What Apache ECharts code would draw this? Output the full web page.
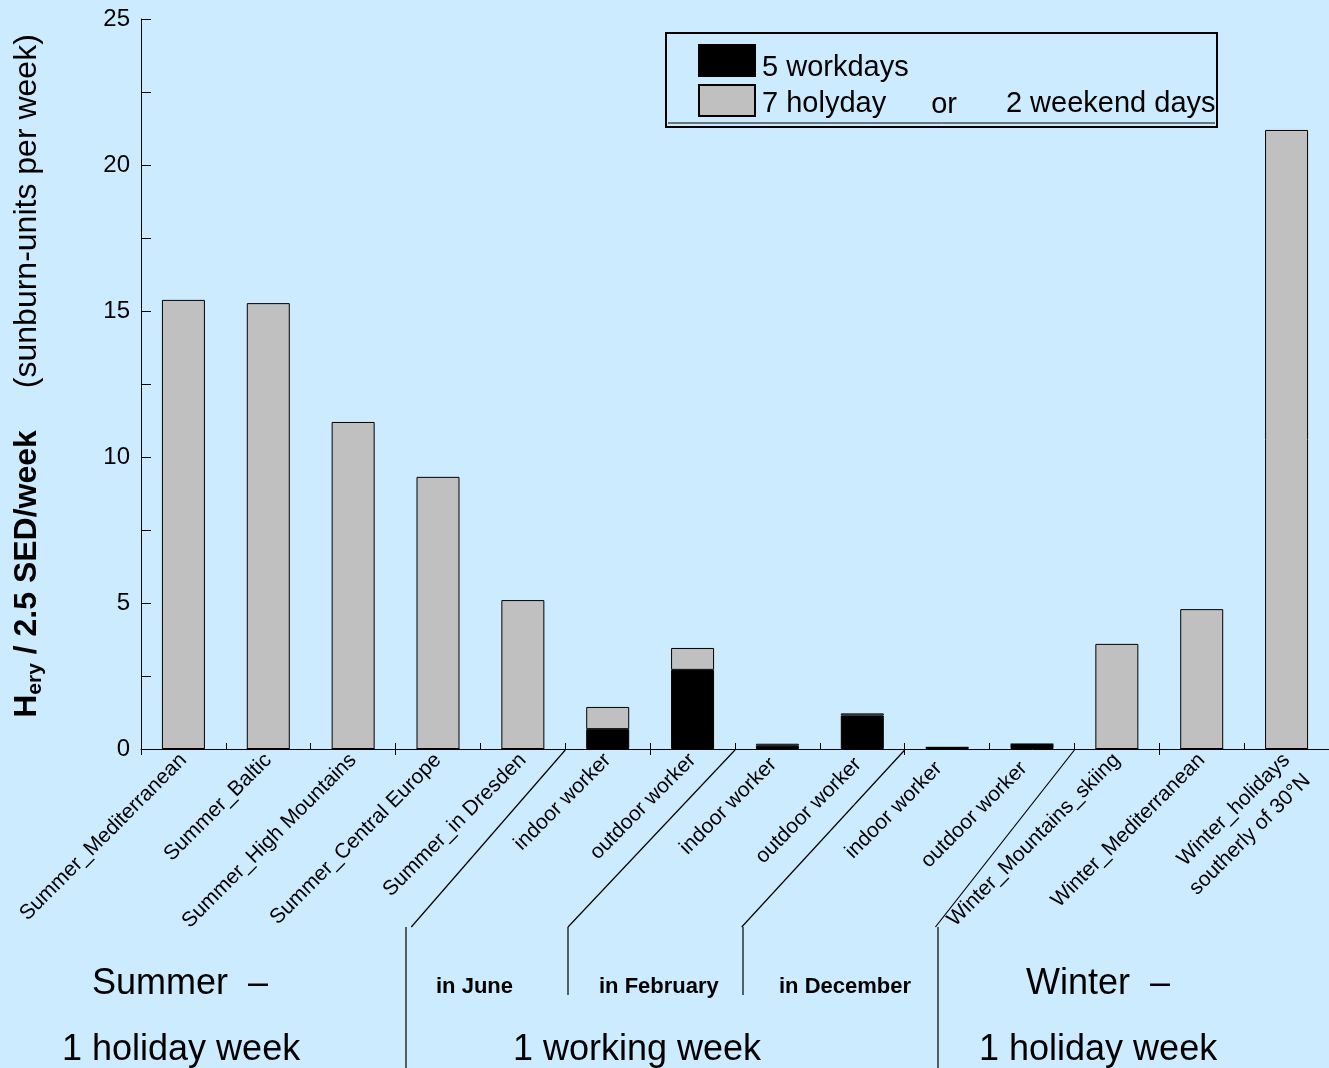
<!DOCTYPE html>
<html>
<head>
<meta charset="utf-8">
<script src="https://cdn.jsdelivr.net/npm/echarts@6/dist/echarts.min.js"></script>
<style>
  html, body { margin: 0; padding: 0; background: #CCEBFF; }
  #chart { width: 1329px; height: 1068px; }
</style>
</head>
<body>
<div id="chart"></div>
<script>
// Erythemal UV dose per week for different exposure scenarios
const categories = [
  'Summer_Mediterranean', 'Summer_Baltic', 'Summer_High Mountains',
  'Summer_Central Europe', 'Summer_in Dresden',
  'indoor worker', 'outdoor worker',      // June
  'indoor worker ', 'outdoor worker ',    // February
  'indoor worker  ', 'outdoor worker  ',  // December
  'Winter_Mountains_skiing', 'Winter_Mediterranean',
  'Winter_holidays\nsoutherly of 30°N'
];
// dose accumulated on the 5 workdays
const workdays = [0, 0, 0, 0, 0, 0.68, 2.71, 0.11, 1.15, 0.05, 0.16, 0, 0, 0];
// dose accumulated on 7 holidays or on the 2 weekend days
const holidays = [15.38, 15.27, 11.2, 9.32, 5.1, 0.76, 0.75, 0.07, 0.07, 0.01, 0.01, 3.6, 4.79, 21.2];
const yTicks = [0, 5, 10, 15, 20, 25];

const FONT = 'Liberation Sans, Arial, Helvetica, sans-serif';
const chart = echarts.init(document.getElementById('chart'));

const option = {
  backgroundColor: '#CCEBFF',
  animation: false,
  textStyle: { fontFamily: FONT, color: '#000' },
  grid: { left: 141, top: 19, width: 1190, bottom: 319, containLabel: false },
  legend: {
    orient: 'vertical',
    left: 698, top: 44,
    itemWidth: 56, itemHeight: 31, itemGap: 2,
    icon: 'rect',
    padding: 0,
    data: [
      { name: '5 workdays', textStyle: { padding: [14, 0, 0, 2] } },
      { name: '7 holyday', textStyle: { padding: [6, 0, 0, 2] } }
    ],
    textStyle: {
      fontSize: 29, fontFamily: FONT, color: '#000',
      rich: {
        o: { fontSize: 29, fontFamily: FONT, color: '#000', padding: [3, 0, 0, 45] },
        w: { fontSize: 29, fontFamily: FONT, color: '#000', padding: [0, 0, 0, 49] }
      }
    },
    formatter: function (name) {
      return name === '7 holyday' ? name + '{o|or}{w|2 weekend days}' : name;
    }
  },
  xAxis: [{
    type: 'category',
    data: categories,
    boundaryGap: true,
    axisLine: { show: true, lineStyle: { color: '#000', width: 1 } },
    axisTick: { show: true, inside: true, length: 6, lineStyle: { color: '#000' } },
    axisLabel: {
      interval: 0, rotate: 45, fontSize: 21, fontFamily: FONT, color: '#000', margin: 8,
      lineHeight: 29,
      // the two-line label hangs a little lower than the single-line ones
      formatter: v => v.indexOf('\n') >= 0 ? ' \n' + v : v
    }
  }, {
    type: 'category',
    data: categories,
    position: 'bottom',
    axisLine: { show: false },
    axisTick: { show: true, inside: false, length: 6, lineStyle: { color: '#000' } },
    axisLabel: { show: false }
  }],
  yAxis: {
    type: 'value',
    min: 0, max: 25, interval: 5,
    axisLine: { show: true, lineStyle: { color: '#000', width: 1 } },
    axisTick: { show: true, inside: true, length: 10, lineStyle: { color: '#000' } },
    minorTick: { show: true, splitNumber: 2, length: 10, lineStyle: { color: '#000' } },
    splitLine: { show: false },
    axisLabel: {
      fontSize: 24, fontFamily: FONT, color: '#000', margin: 11,
      formatter: v => yTicks.includes(v) ? String(v) : ''
    },
    name: '{b|H}{s|ery}{b| / 2.5 SED/week}{n|(sunburn-units per week)}',
    nameLocation: 'middle',
    nameRotate: 90,
    nameGap: 95,
    nameTextStyle: {
      padding: [0, 0, 0, 16],
      rich: {
        b: { fontSize: 32, fontWeight: 'bold', fontFamily: FONT, color: '#000', lineHeight: 38 },
        s: { fontSize: 21, fontWeight: 'bold', fontFamily: FONT, color: '#000', lineHeight: 38, padding: [16, 0, 0, 0] },
        n: { fontSize: 32, fontFamily: FONT, color: '#000', lineHeight: 38, padding: [0, 0, 0, 42] }
      }
    }
  },
  series: [{
    name: '5 workdays',
    type: 'bar',
    stack: 'dose',
    barWidth: 43,
    data: workdays,
    itemStyle: { color: '#000000', borderColor: '#000', borderWidth: 1 }
  }, {
    name: '7 holyday',
    type: 'bar',
    stack: 'dose',
    barWidth: 43,
    data: holidays,
    itemStyle: { color: '#C0C0C0', borderColor: '#000', borderWidth: 1 }
  }]
};
chart.setOption(option);

// Group separators start at category boundaries on the x axis
function boundaryX(i) {
  const a = chart.convertToPixel({ xAxisIndex: 0 }, i - 1);
  const b = chart.convertToPixel({ xAxisIndex: 0 }, i);
  return (a + b) / 2;
}
const y0 = chart.convertToPixel({ yAxisIndex: 0 }, 0);
const seps = [
  { i: 5, dx: 154, vx: 406, vy2: 1068 },
  { i: 7, dx: 167, vx: 568, vy2: 995 },
  { i: 9, dx: 163, vx: 743, vy2: 995 },
  { i: 11, dx: 139, vx: 938, vy2: 1068 }
];
const lineStyle = { stroke: '#000', lineWidth: 1.2 };
const graphics = [];
seps.forEach(s => {
  const x = boundaryX(s.i);
  graphics.push({ type: 'line', shape: { x1: x, y1: y0 + 1, x2: x - s.dx, y2: 927 }, style: lineStyle, silent: true });
  graphics.push({ type: 'line', shape: { x1: s.vx, y1: 927, x2: s.vx, y2: s.vy2 }, style: lineStyle, silent: true });
});

function txt(x, y, text, size, bold) {
  return {
    type: 'text', x: x, y: y, silent: true,
    style: {
      text: text, fontSize: size, fontWeight: bold ? 'bold' : 'normal',
      fontFamily: FONT, fill: '#000', textVerticalAlign: 'middle', textAlign: 'left'
    }
  };
}
graphics.push(txt(92, 984, 'Summer  \u2013', 36));
graphics.push(txt(62, 1050, '1 holiday week', 36));
graphics.push(txt(436, 987, 'in June', 22, true));
graphics.push(txt(599, 987, 'in February', 22, true));
graphics.push(txt(779, 987, 'in December', 22, true));
graphics.push(txt(513, 1050, '1 working week', 36));
graphics.push(txt(1026, 984, 'Winter  \u2013', 36));
graphics.push(txt(979, 1050, '1 holiday week', 36));

// legend frame
graphics.push({ type: 'rect', shape: { x: 666, y: 33, width: 551, height: 94 }, style: { fill: 'none', stroke: '#000', lineWidth: 2 }, silent: true });
graphics.push({ type: 'line', shape: { x1: 668, y1: 123, x2: 1215, y2: 123 }, style: { stroke: '#000', lineWidth: 1 }, silent: true });

chart.setOption({ graphic: graphics });
</script>
</body>
</html>
